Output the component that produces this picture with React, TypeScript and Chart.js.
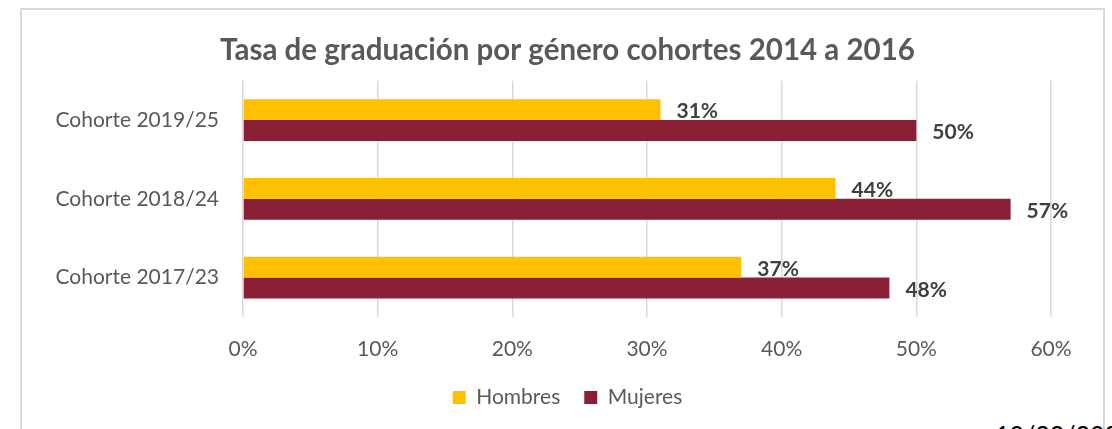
import React, { useEffect, useRef } from "react";
import { Chart, registerables } from "chart.js";

Chart.register(...registerables);

const categories = ["Cohorte 2019/25", "Cohorte 2018/24", "Cohorte 2017/23"];
const hombres = [31, 44, 37];
const mujeres = [50, 57, 48];
const seriesNames = ["Hombres", "Mujeres"];
const xMax = 60;
const xStep = 10;
const titleText = "Tasa de graduación por género cohortes 2014 a 2016";
const dateText = "10/22/2023";

const FONT = "Lato, 'Open Sans', sans-serif";
const BLOCK_SHIFT = 62;

const dataLabelPlugin = {
  id: "dataLabels",
  afterDatasetsDraw(chart: any) {
    const ctx = chart.ctx;
    ctx.save();
    ctx.font = `bold 21px ${FONT}`;
    ctx.fillStyle = "#404040";
    ctx.textAlign = "left";
    ctx.textBaseline = "middle";
    chart.data.datasets.forEach((ds: any, i: number) => {
      const meta = chart.getDatasetMeta(i);
      meta.data.forEach((bar: any, j: number) => {
        ctx.fillText(`${ds.data[j]}%`, bar.x + 16, bar.y + 2);
      });
    });
    ctx.restore();
  },
};

// centre title and legend over the same span as the original
const centerBlocksPlugin = {
  id: "centerBlocks",
  afterLayout(chart: any) {
    [chart.legend, chart.titleBlock].forEach((b: any) => {
      if (!b) return;
      b.left = BLOCK_SHIFT;
      b.width = b.right - b.left;
    });
  },
};

export default function App() {
  const ref = useRef<HTMLCanvasElement>(null);
  useEffect(() => {
    if (!ref.current) return;
    const chart = new Chart(ref.current, {
      type: "bar",
      data: {
        labels: categories,
        datasets: [
          { label: seriesNames[0], data: hombres, backgroundColor: "#FFC000" },
          { label: seriesNames[1], data: mujeres, backgroundColor: "#8A2036" },
        ],
      },
      options: {
        indexAxis: "y",
        responsive: false,
        animation: false,
        layout: { padding: { left: 0, right: 52, top: 0, bottom: 0 } },
        datasets: { bar: { categoryPercentage: 0.53, barPercentage: 1 } },
        scales: {
          x: {
            min: 0,
            max: xMax,
            afterFit: (s: any) => {
              s.height = 46;
            },
            ticks: {
              stepSize: xStep,
              callback: (v: any) => `${v}%`,
              color: "#595959",
              font: { family: FONT, size: 21 },
              padding: 20,
            },
            grid: { color: "#d9d9d9", lineWidth: 1.5, drawTicks: false },
            border: { display: false },
          },
          y: {
            afterFit: (s: any) => {
              s.width = 221;
            },
            ticks: {
              color: "#595959",
              font: { family: FONT, size: 21 },
              padding: 24,
            },
            grid: { display: false, drawTicks: false },
            border: { display: false },
          },
        },
        plugins: {
          title: {
            display: true,
            text: titleText,
            color: "#595959",
            font: { family: FONT, size: 29.5, weight: "bold" },
            padding: { top: 23, bottom: 12.3 },
          },
          legend: {
            position: "bottom",
            labels: {
              boxWidth: 13,
              boxHeight: 13,
              padding: 24,
              color: "#595959",
              font: { family: FONT, size: 21 },
            },
          },
          tooltip: { enabled: false },
        },
      },
      plugins: [dataLabelPlugin, centerBlocksPlugin],
    });
    return () => chart.destroy();
  }, []);

  return (
    <div style={{ position: "fixed", left: 0, top: 0, width: 1112, height: 429, overflow: "hidden", background: "#fff" }}>
      <div
        style={{
          position: "absolute",
          left: 20,
          top: 8,
          width: 1081,
          height: 440,
          border: "2px solid #d9d9d9",
          background: "#fff",
        }}
      >
        <canvas ref={ref} width={1081} height={408} style={{ display: "block" }} />
      </div>
      <div
        style={{
          position: "absolute",
          left: 995,
          top: 422,
          font: `25px ${FONT}`,
          color: "#000",
          whiteSpace: "nowrap",
          lineHeight: "25px",
        }}
      >
        {dateText}
      </div>
    </div>
  );
}
